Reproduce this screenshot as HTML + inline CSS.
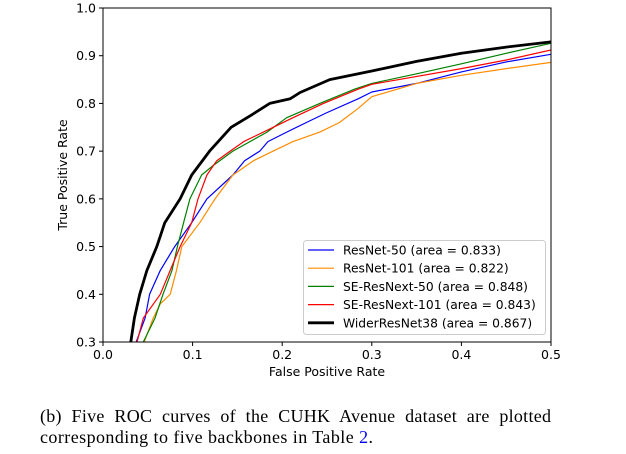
<!DOCTYPE html>
<html><head><meta charset="utf-8"><style>
html,body{margin:0;padding:0;background:#fff;}
svg{display:block;}
text{font-family:"DejaVu Sans","Liberation Sans",sans-serif;}
.cap{font-family:"Liberation Serif",serif;font-size:18px;fill:#000;}
</style></head><body>
<svg id="chart" width="626" height="454" viewBox="0 0 626 454">
<g id="plot"></g>
<text class="cap" x="40" y="422" word-spacing="5" textLength="511" lengthAdjust="spacing">(b) Five ROC curves of the CUHK Avenue dataset are plotted</text>
<text class="cap" x="40" y="443" textLength="333" lengthAdjust="spacing">corresponding to five backbones in Table <tspan fill="#0000ee">2</tspan>.</text>
</svg>
<script>
const xTicks=[0.0,0.1,0.2,0.3,0.4,0.5];
const yTicks=[0.3,0.4,0.5,0.6,0.7,0.8,0.9,1.0];
const seriesNames=["ResNet-50 (area = 0.833)","ResNet-101 (area = 0.822)","SE-ResNext-50 (area = 0.848)","SE-ResNext-101 (area = 0.843)","WiderResNet38 (area = 0.867)"];
const seriesColors=["#0000ff","#ff8c00","#008000","#ff0000","#000000"];
const resnet50X=[0.037,0.047,0.052,0.064,0.080,0.099,0.116,0.145,0.158,0.175,0.184,0.205,0.227,0.249,0.285,0.3,0.35,0.4,0.45,0.5];
const resnet50Y=[0.3,0.35,0.4,0.45,0.5,0.55,0.6,0.65,0.68,0.7,0.72,0.74,0.76,0.78,0.81,0.824,0.842,0.866,0.887,0.903];
const resnet101X=[0.046,0.056,0.064,0.075,0.082,0.088,0.108,0.125,0.145,0.168,0.19,0.212,0.242,0.264,0.285,0.3,0.35,0.4,0.45,0.5];
const resnet101Y=[0.3,0.35,0.38,0.4,0.45,0.5,0.55,0.6,0.65,0.68,0.7,0.72,0.74,0.76,0.79,0.814,0.842,0.859,0.873,0.886];
const se50X=[0.045,0.058,0.067,0.077,0.083,0.090,0.097,0.110,0.123,0.145,0.183,0.205,0.242,0.281,0.3,0.35,0.4,0.45,0.5];
const se50Y=[0.3,0.35,0.4,0.45,0.5,0.55,0.6,0.65,0.67,0.7,0.74,0.77,0.8,0.83,0.842,0.862,0.883,0.905,0.926];
const se101X=[0.038,0.045,0.064,0.075,0.086,0.099,0.106,0.116,0.127,0.142,0.157,0.19,0.212,0.246,0.285,0.3,0.4,0.45,0.5];
const se101Y=[0.3,0.35,0.4,0.45,0.5,0.55,0.6,0.65,0.68,0.7,0.72,0.75,0.77,0.8,0.83,0.84,0.873,0.891,0.912];
const widerX=[0.031,0.035,0.041,0.049,0.06,0.069,0.086,0.099,0.119,0.143,0.165,0.186,0.209,0.22,0.253,0.3,0.35,0.4,0.45,0.5];
const widerY=[0.3,0.35,0.4,0.45,0.5,0.55,0.6,0.65,0.7,0.75,0.775,0.8,0.81,0.823,0.85,0.868,0.888,0.905,0.918,0.929];
const allX=[resnet50X,resnet101X,se50X,se101X,widerX];
const allY=[resnet50Y,resnet101Y,se50Y,se101Y,widerY];

const NS="http://www.w3.org/2000/svg";
const L=103,R=551,T=8,B=342;
const sx=v=>L+(v-0)/(0.5-0)*(R-L);
const sy=v=>B-(v-0.3)/(1.0-0.3)*(B-T);
const g=document.getElementById('plot');
function mk(tag,attrs,parent){const e=document.createElementNS(NS,tag);for(const k in attrs)e.setAttribute(k,attrs[k]);(parent||g).appendChild(e);return e;}

const clip=mk('clipPath',{id:'cp'});mk('rect',{x:L,y:T,width:R-L,height:B-T},clip);

allX.forEach((xs,i)=>{
  const d=xs.map((x,j)=>(j?'L':'M')+sx(x).toFixed(1)+','+sy(allY[i][j]).toFixed(1)).join('');
  const p=mk('path',{d:d,fill:'none',stroke:seriesColors[i],'stroke-width':i==4?2.8:1.2,'clip-path':'url(#cp)','stroke-linejoin':'round'});
  
  
});

const frame=mk('rect',{x:L,y:T,width:R-L,height:B-T,fill:'none',stroke:'#000','stroke-width':1});



xTicks.forEach(v=>{
  mk('line',{x1:sx(v),x2:sx(v),y1:B,y2:B+4,stroke:'#000'});
  const t=mk('text',{x:sx(v),y:B+17,'text-anchor':'middle','font-size':12.5});
  t.textContent=v.toFixed(1);
  
  
});
yTicks.forEach(v=>{
  mk('line',{x1:L-4,x2:L,y1:sy(v),y2:sy(v),stroke:'#000'});
  const t=mk('text',{x:L-7,y:sy(v)+4.5,'text-anchor':'end','font-size':12.5});
  t.textContent=v.toFixed(1);
  
  
});
const xl=mk('text',{x:(L+R)/2,y:376,'text-anchor':'middle','font-size':12.5});
xl.textContent='False Positive Rate';


const yl=mk('text',{x:0,y:0,'text-anchor':'middle','font-size':12.5,transform:'translate(67,'+((T+B)/2)+') rotate(-90)'});
yl.textContent='True Positive Rate';



const lg=mk('g',{});


mk('rect',{x:303.5,y:240.5,width:242,height:94,rx:3,fill:'#fff','fill-opacity':0.85,stroke:'#ccc'},lg);
seriesNames.forEach((n,i)=>{
  const yy=250+i*18.2;
  mk('line',{x1:308,x2:334,y1:yy,y2:yy,stroke:seriesColors[i],'stroke-width':i==4?2.8:1.2},lg);
  const t=mk('text',{x:343,y:yy+4.5,'font-size':12.3},lg);
  t.textContent=n;
  
  
});
</script>
</body></html>
